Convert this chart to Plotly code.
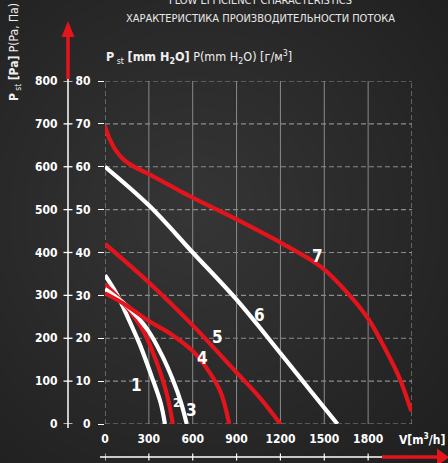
import plotly.graph_objects as go

# ---------------- data ----------------
flow_ticks = [0, 300, 600, 900, 1200, 1500, 1800]
flow_tick_text = ["0", "300", "600", "900", "1200", "1500", "1800"]
mm_ticks = [0, 10, 20, 30, 40, 50, 60, 70, 80]
pa_ticks = [0, 100, 200, 300, 400, 500, 600, 700, 800]
x_max = 2100

c1_v = [0, 80, 160, 240, 320, 380, 410]
c1_p = [34.7, 30.3, 24.6, 18.4, 11.0, 5.0, 0]
c2_v = [0, 130, 259, 330, 395, 430, 464]
c2_p = [32.6, 28.0, 21.9, 16.5, 10.3, 6.0, 0]
c3_v = [0, 150, 293, 390, 464, 520, 559]
c3_p = [31.5, 27.5, 21.9, 16.0, 10.3, 5.0, 0]
c4_v = [0, 150, 300, 450, 600, 700, 790, 850]
c4_p = [30.5, 27.6, 24.0, 21.0, 17.0, 12.8, 7.5, 0]
c5_v = [0, 300, 600, 900, 1050, 1200]
c5_p = [42.0, 33.0, 23.0, 12.0, 6.5, 0]
c6_v = [0, 300, 600, 900, 1200, 1400, 1590]
c6_p = [60.0, 51.0, 40.0, 29.0, 16.5, 8.0, 0]
c7_v = [0, 30, 70, 130, 205, 300, 593, 907, 1207, 1480, 1684, 1807, 1909, 2011, 2095]
c7_p = [69.5, 66.6, 64.0, 61.6, 59.9, 58.3, 52.9, 47.6, 42.2, 36.6, 29.6, 24.2, 18.0, 11.0, 3.0]

curve_names = ["1", "2", "3", "4", "5", "6", "7"]
label_v = [218, 491, 593, 668, 770, 1057, 1452]
label_p = [9.1, 4.9, 3.3, 15.4, 20.3, 25.4, 39.2]
label_size = [17, 12, 17, 17, 17, 17, 17]

RED = "#e3141c"
WHITE = "#ffffff"
curves = [(c1_v, c1_p, WHITE), (c2_v, c2_p, RED), (c3_v, c3_p, WHITE),
          (c4_v, c4_p, RED), (c5_v, c5_p, RED), (c6_v, c6_p, WHITE),
          (c7_v, c7_p, RED)]

FONT = "Liberation Sans Narrow, DejaVu Sans Condensed, Arial Narrow, sans-serif"

# ---------------- layout geometry (pixels) ----------------
W_FIG, H_FIG = 448, 463
L, R, T, B = 105, 412, 81, 424
PW, PH = R - L, B - T


def px(X):
    return (X - L) / PW


def py(Y):
    return (B - Y) / PH


fig = go.Figure()

for v, p, col in curves:
    fig.add_trace(go.Scatter(x=v, y=p, mode="lines",
                             line=dict(color=col, width=4.2, shape="spline", smoothing=1.0),
                             hoverinfo="skip", showlegend=False))

shapes = []
# background radial glow
cx, cy = 195, 215
N = 22
for i in range(N):
    r = 340 * (1 - i / N)
    shapes.append(dict(type="circle", xref="paper", yref="paper", layer="below",
                       x0=px(cx - r), x1=px(cx + r), y0=py(cy + r), y1=py(cy - r),
                       fillcolor="rgba(255,255,255,0.0085)", line=dict(width=0)))

GRID = "#8c8c8c"
# horizontal dashed grid
for yv in mm_ticks:
    shapes.append(dict(type="line", xref="x", yref="y", layer="below",
                       x0=0, x1=x_max, y0=yv, y1=yv,
                       line=dict(color=GRID, width=1.2, dash="5px,3px")))
# vertical grid
for xv in flow_ticks[1:]:
    shapes.append(dict(type="line", xref="x", yref="y", layer="below",
                       x0=xv, x1=xv, y0=0, y1=mm_ticks[-1],
                       line=dict(color="#8a8a8a", width=1)))
for xv in [0, x_max]:
    shapes.append(dict(type="line", xref="x", yref="y", layer="below",
                       x0=xv, x1=xv, y0=0, y1=mm_ticks[-1],
                       line=dict(color=GRID, width=1.2, dash="5px,3px")))

# left Pa axis line with cross ticks
shapes.append(dict(type="line", xref="paper", yref="paper",
                   x0=px(68), x1=px(68), y0=py(77), y1=py(428),
                   line=dict(color=WHITE, width=1.5)))
for pv in pa_ticks:
    shapes.append(dict(type="line", xref="paper", yref="y",
                       x0=px(63.5), x1=px(72.5), y0=pv / 10, y1=pv / 10,
                       line=dict(color=WHITE, width=1.3)))
# red vertical arrow
shapes.append(dict(type="line", xref="paper", yref="paper",
                   x0=px(68), x1=px(68), y0=py(79), y1=py(36),
                   line=dict(color=RED, width=3.5)))
shapes.append(dict(type="path", xref="paper", yref="paper",
                   path=f"M {px(61.5)} {py(37)} L {px(74.5)} {py(37)} L {px(68)} {py(21)} Z",
                   fillcolor=RED, line=dict(width=0)))

# bottom flow axis line with ticks
shapes.append(dict(type="line", xref="paper", yref="paper",
                   x0=px(100), x1=px(383), y0=py(457), y1=py(457),
                   line=dict(color=WHITE, width=1.3)))
for xv in flow_ticks:
    shapes.append(dict(type="line", xref="x", yref="paper",
                       x0=xv, x1=xv, y0=py(453.5), y1=py(460.5),
                       line=dict(color=WHITE, width=1.2)))
shapes.append(dict(type="line", xref="paper", yref="paper",
                   x0=px(382), x1=px(439), y0=py(457), y1=py(457),
                   line=dict(color=RED, width=3.5)))
shapes.append(dict(type="path", xref="paper", yref="paper",
                   path=f"M {px(437)} {py(448.5)} L {px(437)} {py(466)} L {px(449)} {py(457.2)} Z",
                   fillcolor=RED, line=dict(width=0)))

annotations = []
# Pa tick labels
for pv in pa_ticks:
    annotations.append(dict(xref="paper", yref="y", x=px(60), y=pv / 10,
                            xanchor="right", yanchor="middle", showarrow=False,
                            text=f"<b>{pv}</b>", font=dict(family=FONT, size=12, color=WHITE)))
# curve labels
for name, lv, lp, ls in zip(curve_names, label_v, label_p, label_size):
    annotations.append(dict(xref="x", yref="y", x=lv, y=lp, showarrow=False,
                            text=f"<b>{name}</b>", font=dict(family=FONT, size=ls, color=WHITE)))
# titles
annotations.append(dict(xref="paper", yref="paper", x=px(260), y=py(0.5), showarrow=False,
                        xanchor="center", yanchor="middle",
                        text="FLOW EFFICIENCY CHARACTERISTICS",
                        font=dict(family=FONT, size=11, color="#e8e8e8")))
annotations.append(dict(xref="paper", yref="paper", x=px(260), y=py(19), showarrow=False,
                        xanchor="center", yanchor="middle",
                        text="ХАРАКТЕРИСТИКА ПРОИЗВОДИТЕЛЬНОСТИ ПОТОКА",
                        font=dict(family=FONT, size=11, color="#e8e8e8")))
annotations.append(dict(xref="paper", yref="paper", x=px(104), y=py(57), showarrow=False,
                        xanchor="left", yanchor="middle",
                        text="<b>P</b><sub> st</sub> <b>[mm H<sub>2</sub>O]</b> P(mm H<sub>2</sub>O) [г/м<sup>3</sup>]",
                        font=dict(family=FONT, size=12.5, color="#f0f0f0")))
annotations.append(dict(xref="paper", yref="paper", x=px(15), y=py(52), showarrow=False,
                        xanchor="center", yanchor="middle", textangle=-90,
                        text="<b>P</b><sub> st</sub> <b>[Pa]</b> P(Pa, Па)",
                        font=dict(family=FONT, size=12, color="#f0f0f0")))
annotations.append(dict(xref="paper", yref="paper", x=px(422), y=py(439), showarrow=False,
                        xanchor="center", yanchor="middle",
                        text="<b>V[m<sup>3</sup>/h]</b>",
                        font=dict(family=FONT, size=12, color=WHITE)))

fig.update_layout(
    width=W_FIG, height=H_FIG,
    margin=dict(l=L, r=W_FIG - R, t=T, b=H_FIG - B, pad=0),
    paper_bgcolor="#1f1f1f", plot_bgcolor="rgba(0,0,0,0)",
    showlegend=False,
    shapes=shapes, annotations=annotations,
    xaxis=dict(range=[0, x_max], tickvals=flow_ticks, ticktext=[f"<b>{t}</b>" for t in flow_tick_text],
               showgrid=False, zeroline=False, showline=False, ticks="",
               tickfont=dict(family=FONT, size=12, color=WHITE), ticklabelstandoff=6,
               fixedrange=True),
    yaxis=dict(range=[0, 80], tickvals=mm_ticks, ticktext=[f"<b>{t}</b>" for t in mm_ticks],
               showgrid=False, zeroline=False, showline=False,
               ticks="outside", ticklen=6, tickwidth=1.3, tickcolor=WHITE,
               tickfont=dict(family=FONT, size=12, color=WHITE), ticklabelstandoff=5,
               fixedrange=True),
)

fig.write_html("out.html", config={"displayModeBar": False},
               post_script="document.body.style.margin='0px';document.body.style.overflow='hidden';")
